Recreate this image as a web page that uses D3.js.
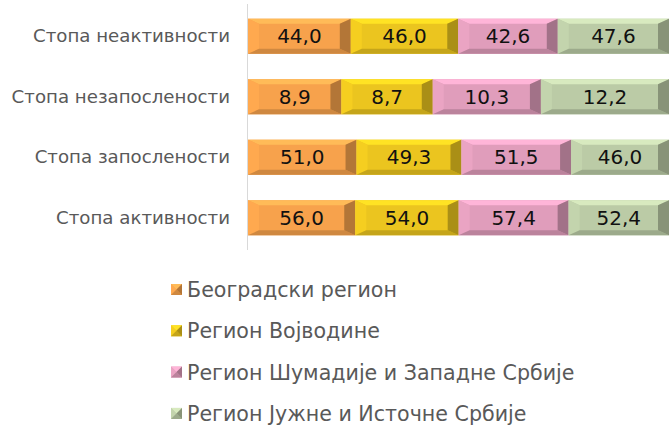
<!DOCTYPE html>
<html><head><meta charset="utf-8">
<script src="https://cdn.jsdelivr.net/npm/d3@7"></script>
<style>body{margin:0;background:#fff}svg{display:block}</style>
</head><body>
<svg id="c" width="671" height="425"></svg>
<script>
const categories = ["Стопа неактивности","Стопа незапослености","Стопа запослености","Стопа активности"];
const seriesNames = ["Београдски регион","Регион Војводине","Регион Шумадије и Западне Србије","Регион Јужне и Источне Србије"];
const beograd   = [44.0, 8.9, 51.0, 56.0];
const vojvodina = [46.0, 8.7, 49.3, 54.0];
const sumadija  = [42.6, 10.3, 51.5, 57.4];
const jug       = [47.6, 12.2, 46.0, 52.4];
const colors = ["#F7A24C","#EBC51F","#E09DBB","#BBCBA6"];

const series = [beograd, vojvodina, sumadija, jug];
const svg = d3.select("#c");
const x0 = 248, W = 421;
const x = d3.scaleLinear().domain([0,1]).range([x0, x0+W]);
const y = d3.scaleBand().domain(categories).range([6, 248]).paddingInner(0.42).paddingOuter(0.21);

const rows = categories.map((c,i)=>{
  const vals = series.map(s=>s[i]);
  const tot = d3.sum(vals);
  let acc = 0;
  return vals.map((v,k)=>{ const a = acc/tot; acc += v; return {cat:c, k, v, a, b: acc/tot}; });
});

svg.append("line").attr("x1",x0-0.5).attr("x2",x0-0.5).attr("y1",4).attr("y2",250)
  .attr("stroke","#d9d9d9").attr("stroke-width",1);

function bevel(g, x1, y1, w, h, col, bw, bh){
  const c = d3.color(col);
  g.append("rect").attr("x",x1).attr("y",y1).attr("width",w).attr("height",h).attr("fill",col);
  const pts = {
    top:[[x1,y1],[x1+w,y1],[x1+w-bw,y1+bh],[x1+bw,y1+bh]],
    bot:[[x1,y1+h],[x1+w,y1+h],[x1+w-bw,y1+h-bh],[x1+bw,y1+h-bh]],
    left:[[x1,y1],[x1+bw,y1+bh],[x1+bw,y1+h-bh],[x1,y1+h]],
    right:[[x1+w,y1],[x1+w-bw,y1+bh],[x1+w-bw,y1+h-bh],[x1+w,y1+h]]
  };
  g.append("polygon").attr("points",pts.top.join(" ")).attr("fill",c.brighter(0.4));
  g.append("polygon").attr("points",pts.left.join(" ")).attr("fill",c.brighter(0.12));
  g.append("polygon").attr("points",pts.bot.join(" ")).attr("fill",c.darker(0.5));
  g.append("polygon").attr("points",pts.right.join(" ")).attr("fill",c.darker(0.9));
}

const g = svg.append("g");
rows.forEach(r=>{
  r.forEach(d=>{
    const xa = x(d.a), xb = x(d.b), yy = y(d.cat), h = y.bandwidth();
    bevel(g, xa, yy, xb-xa, h, colors[d.k], 11, 5);
    g.append("text").attr("x",(xa+xb)/2).attr("y",yy+h/2+7)
      .attr("text-anchor","middle").attr("font-family","'DejaVu Sans', sans-serif")
      .attr("font-size",20).attr("fill","#111").text(d3.format(".1f")(d.v).replace(".",","));
  });
});

svg.append("g").selectAll("text").data(categories).join("text")
  .attr("x",230).attr("y",d=>y(d)+y.bandwidth()/2+6)
  .attr("text-anchor","end").attr("font-family","'DejaVu Sans', sans-serif").attr("font-size",18.2)
  .attr("fill","#595959").text(d=>d);

const leg = svg.append("g");
seriesNames.forEach((n,i)=>{
  const ly = 290 + i*41.3;
  const lg = leg.append("g");
  bevel(lg, 171, ly-6, 11, 11, colors[i], 5.5, 5.5);
  lg.append("text").attr("x",187).attr("y",ly+7).attr("font-family","'DejaVu Sans', sans-serif")
    .attr("font-size",20.6).attr("fill","#595959").text(n);
});
</script>
</body></html>
